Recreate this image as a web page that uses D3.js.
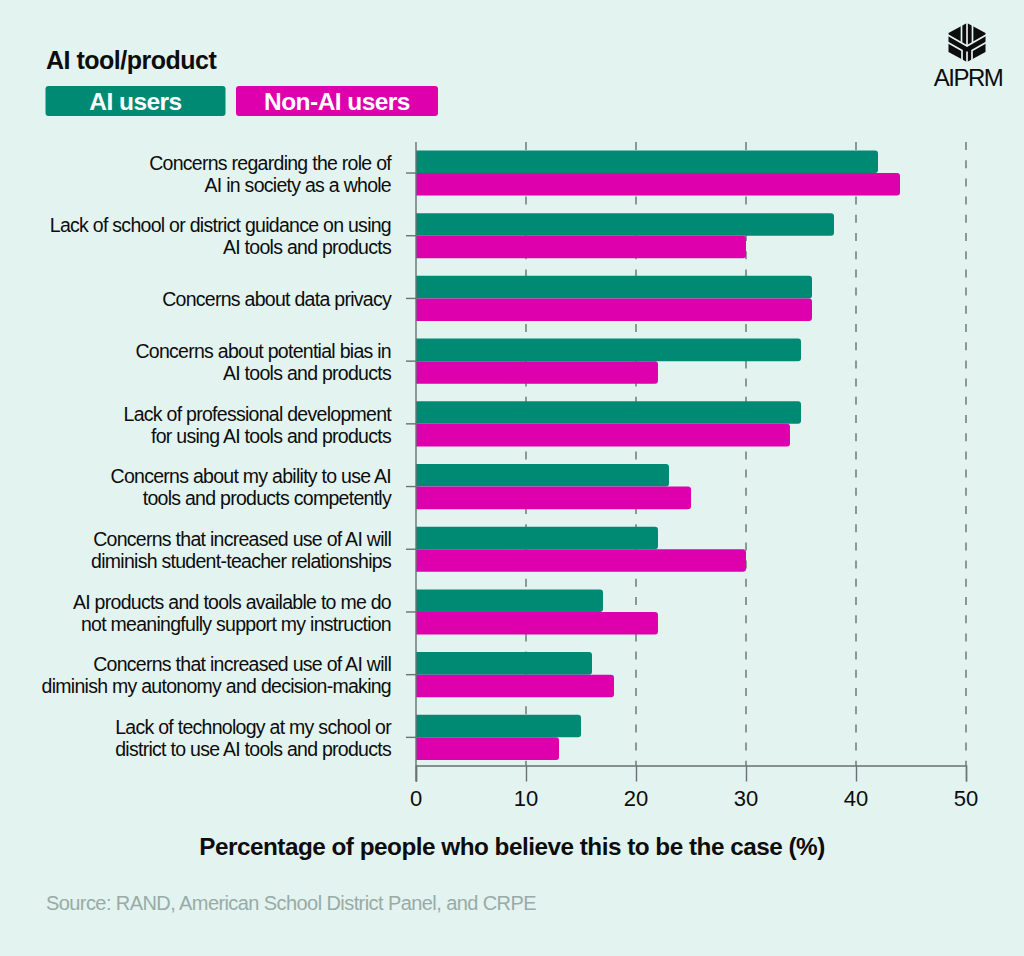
<!DOCTYPE html>
<html>
<head>
<meta charset="utf-8">
<script src="https://cdn.jsdelivr.net/npm/d3@7"></script>
<style>
  html, body { margin: 0; padding: 0; background: #e3f3f0; }
  svg { display: block; }
  text { font-family: "Liberation Sans", sans-serif; fill: #0d0d0d; }
  .cat-label { font-size: 19.5px; letter-spacing: -0.72px; text-anchor: end; }
  .tick-label { font-size: 22px; }
  .bold { font-weight: 700; }
  .axis-line { stroke: #66736f; stroke-width: 1.4; fill: none; }
  .grid-line { stroke: #66736f; stroke-width: 1.4; stroke-dasharray: 8 10.2; }
</style>
</head>
<body>
<div id="chart"></div>
<script>
var categories = [
  ["Concerns regarding the role of", "AI in society as a whole"],
  ["Lack of school or district guidance on using", "AI tools and products"],
  ["Concerns about data privacy"],
  ["Concerns about potential bias in", "AI tools and products"],
  ["Lack of professional development", "for using AI tools and products"],
  ["Concerns about my ability to use AI", "tools and products competently"],
  ["Concerns that increased use of AI will", "diminish student-teacher relationships"],
  ["AI products and tools available to me do", "not meaningfully support my instruction"],
  ["Concerns that increased use of AI will", "diminish my autonomy and decision-making"],
  ["Lack of technology at my school or", "district to use AI tools and products"]
];
var aiUsers = [42, 38, 36, 35, 35, 23, 22, 17, 16, 15];
var nonAiUsers = [44, 30, 36, 22, 34, 25, 30, 22, 18, 13];
var seriesNames = ["AI users", "Non-AI users"];
var seriesColors = ["#008a74", "#dd00ac"];
var xTicks = [0, 10, 20, 30, 40, 50];

var width = 1024,
    height = 956,
    axisY = 765.5,
    plotTop = 142;

var svg = d3.select("#chart").append("svg")
    .attr("width", width)
    .attr("height", height);

var x = d3.scaleLinear()
    .domain([0, 50])
    .range([416, 966]);

var y = d3.scaleBand()
    .domain(d3.range(categories.length))
    .range([132.9, 777.5])
    .padding(0.28);

var inner = d3.scaleBand()
    .domain([0, 1])
    .range([0, y.bandwidth()]);

// grid goes under the bars
svg.append("g").selectAll("line")
    .data(xTicks.slice(1))
  .enter().append("line")
    .attr("class", "grid-line")
    .attr("x1", function(d) { return x(d); })
    .attr("x2", function(d) { return x(d); })
    .attr("y1", plotTop)
    .attr("y2", axisY);

// square on the left, small radius on the right
function barPath(x0, x1, top, h) {
  var r = 3;
  return "M" + x0 + "," + top + "H" + (x1 - r) + "Q" + x1 + "," + top + " " + x1 + "," + (top + r) +
    "V" + (top + h - r) + "Q" + x1 + "," + (top + h) + " " + (x1 - r) + "," + (top + h) + "H" + x0 + "Z";
}

[aiUsers, nonAiUsers].forEach(function(values, s) {
  svg.append("g").selectAll("path")
      .data(values)
    .enter().append("path")
      .attr("fill", seriesColors[s])
      .attr("d", function(d, i) {
        return barPath(x(0), x(d), y(i) + inner(s), inner.bandwidth());
      });
});

// axes
var xAxis = d3.axisBottom(x).tickValues(xTicks).tickSize(16).tickFormat("");
var xg = svg.append("g")
    .attr("transform", "translate(0," + axisY + ")")
    .call(xAxis);
xg.select(".domain").attr("class", "axis-line");
xg.selectAll("line").attr("class", "axis-line");

svg.append("line")
    .attr("class", "axis-line")
    .attr("x1", x(0)).attr("x2", x(0))
    .attr("y1", plotTop).attr("y2", axisY + 16);

svg.append("g").selectAll("line")
    .data(categories)
  .enter().append("line")
    .attr("class", "axis-line")
    .attr("x1", x(0) - 10).attr("x2", x(0))
    .attr("y1", function(d, i) { return y(i) + y.bandwidth() / 2; })
    .attr("y2", function(d, i) { return y(i) + y.bandwidth() / 2; });

svg.append("g").selectAll("text")
    .data(xTicks)
  .enter().append("text")
    .attr("class", "tick-label")
    .attr("x", function(d) { return x(d); })
    .attr("y", 805.5)
    .attr("text-anchor", "middle")
    .text(function(d) { return d; });

// category labels, one or two lines
svg.append("g").selectAll("text")
    .data(categories)
  .enter().append("text")
    .attr("class", "cat-label")
    .attr("y", function(d, i) { return y(i) + y.bandwidth() / 2; })
    .each(function(d) {
      var cy = +d3.select(this).attr("y");
      d3.select(this).selectAll("tspan")
          .data(d)
        .enter().append("tspan")
          .attr("x", 391)
          .attr("y", function(t, k) {
            return d.length == 1 ? cy + 7.5 : cy + (k == 0 ? -3.3 : 18.7);
          })
          .text(function(t) { return t; });
    });

// title and legend
svg.append("text")
    .attr("class", "bold")
    .attr("x", 46).attr("y", 69)
    .style("font-size", "25px")
    .style("letter-spacing", "-0.5px")
    .text("AI tool/product");

var legendBoxes = [[45.5, 180], [236, 202]];
seriesNames.forEach(function(name, s) {
  svg.append("rect")
      .attr("x", legendBoxes[s][0]).attr("y", 86)
      .attr("width", legendBoxes[s][1]).attr("height", 30)
      .attr("rx", 3)
      .attr("fill", seriesColors[s]);
  svg.append("text")
      .attr("class", "bold")
      .attr("x", legendBoxes[s][0] + legendBoxes[s][1] / 2).attr("y", 110)
      .attr("text-anchor", "middle")
      .style("fill", "#fff")
      .style("font-size", "24.5px")
      .style("letter-spacing", "-0.55px")
      .text(name);
});

svg.append("text")
    .attr("class", "bold")
    .attr("x", 512).attr("y", 855)
    .attr("text-anchor", "middle")
    .style("font-size", "24.3px")
    .style("letter-spacing", "-0.5px")
    .text("Percentage of people who believe this to be the case (%)");

svg.append("text")
    .attr("x", 46).attr("y", 910)
    .style("font-size", "20px")
    .style("letter-spacing", "-0.58px")
    .style("fill", "#98aba7")
    .text("Source: RAND, American School District Panel, and CRPE");

// logo: black hexagon cut by white stripes
var logo = svg.append("g").attr("transform", "translate(967,42.5)");
logo.append("path")
    .attr("d", "M0,-19.5L18.5,-9.5V9.5L0,19.5L-18.5,9.5V-9.5Z")
    .attr("fill", "#0d0d0d");
var cuts = [
  "M0,-21V3", "M-5.5,-21V0", "M5.5,-21V0",
  "M-20,-8L0,3.5L20,-8",
  "M-20,-0.5L-5,8V21", "M20,-0.5L5,8V21",
  "M0,9V21"
];
logo.selectAll("path.cut")
    .data(cuts)
  .enter().append("path")
    .attr("class", "cut")
    .attr("d", function(d) { return d; })
    .attr("fill", "none")
    .attr("stroke", "#e3f3f0")
    .attr("stroke-width", 1.7);

svg.append("text")
    .attr("x", 968).attr("y", 86)
    .attr("text-anchor", "middle")
    .style("font-size", "24px")
    .style("letter-spacing", "-1.5px")
    .text("AIPRM");
</script>
</body>
</html>
